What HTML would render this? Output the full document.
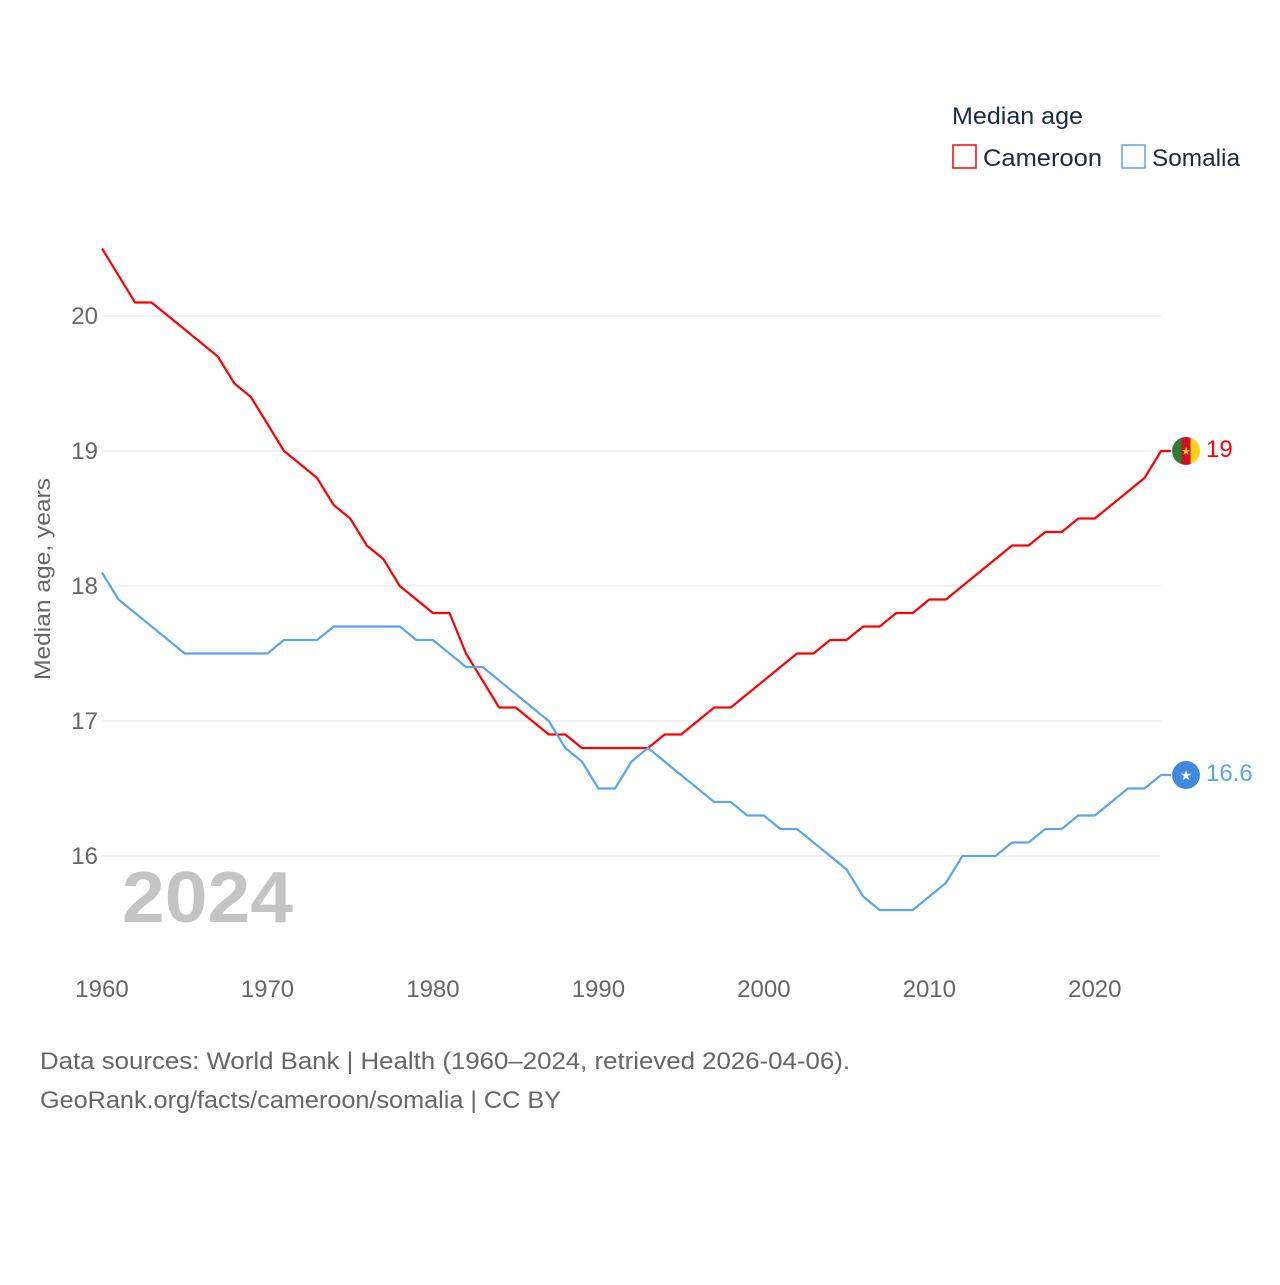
<!DOCTYPE html>
<html><head><meta charset="utf-8">
<style>
body{margin:0;background:#fff;font-family:"Liberation Sans",sans-serif;}
svg text{font-family:"Liberation Sans",sans-serif;}
</style></head>
<body>
<svg id="chart" width="1280" height="1280" viewBox="0 0 1280 1280" xmlns="http://www.w3.org/2000/svg">
<g id="grid"></g>
<g id="yticks"></g>
<g id="xticks"></g>
<text transform="translate(50,579) rotate(-90)" text-anchor="middle" font-size="22" fill="#666" textLength="202" lengthAdjust="spacingAndGlyphs">Median age, years</text>
<text x="122" y="922" font-size="72" font-weight="bold" fill="#c4c4c4" textLength="171" lengthAdjust="spacingAndGlyphs">2024</text>
<g id="lines"></g>
<g>
<text x="952" y="124" font-size="24" fill="#1b2a44" textLength="131" lengthAdjust="spacingAndGlyphs">Median age</text>
<rect x="953" y="145" width="23" height="23" fill="none" stroke="#ff0000" stroke-width="1.5"/>
<text x="983" y="166" font-size="24" fill="#1b2a44" textLength="119" lengthAdjust="spacingAndGlyphs">Cameroon</text>
<rect x="1122" y="145" width="23" height="23" fill="none" stroke="#5aa5ee" stroke-width="1.5"/>
<text x="1152" y="166" font-size="24" fill="#1b2a44" textLength="88" lengthAdjust="spacingAndGlyphs">Somalia</text>
</g>
<text x="40" y="1069" font-size="24" fill="#666" textLength="810" lengthAdjust="spacingAndGlyphs">Data sources: World Bank | Health (1960–2024, retrieved 2026-04-06).</text>
<text x="40" y="1108" font-size="24" fill="#666" textLength="521" lengthAdjust="spacingAndGlyphs">GeoRank.org/facts/cameroon/somalia | CC BY</text>
</svg>
<script>
const years = [];
for (let y = 1960; y <= 2024; y++) years.push(y);
const cameroon = [20.5,20.3,20.1,20.1,20.0,19.9,19.8,19.7,19.5,19.4,19.2,19.0,18.9,18.8,18.6,18.5,18.3,18.2,18.0,17.9,17.8,17.8,17.5,17.3,17.1,17.1,17.0,16.9,16.9,16.8,16.8,16.8,16.8,16.8,16.9,16.9,17.0,17.1,17.1,17.2,17.3,17.4,17.5,17.5,17.6,17.6,17.7,17.7,17.8,17.8,17.9,17.9,18.0,18.1,18.2,18.3,18.3,18.4,18.4,18.5,18.5,18.6,18.7,18.8,19.0];
const somalia = [18.1,17.9,17.8,17.7,17.6,17.5,17.5,17.5,17.5,17.5,17.5,17.6,17.6,17.6,17.7,17.7,17.7,17.7,17.7,17.6,17.6,17.5,17.4,17.4,17.3,17.2,17.1,17.0,16.8,16.7,16.5,16.5,16.7,16.8,16.7,16.6,16.5,16.4,16.4,16.3,16.3,16.2,16.2,16.1,16.0,15.9,15.7,15.6,15.6,15.6,15.7,15.8,16.0,16.0,16.0,16.1,16.1,16.2,16.2,16.3,16.3,16.4,16.5,16.5,16.6];
const yTickValues = [16,17,18,19,20];
const xTickValues = [1960,1970,1980,1990,2000,2010,2020];

const NS = "http://www.w3.org/2000/svg";
const xScale = y => 102 + (y - 1960) * (1059 / 64);
const yScale = v => 316 + (20 - v) * 135;
function mk(tag, attrs, parent){const e=document.createElementNS(NS,tag);for(const k in attrs)e.setAttribute(k,attrs[k]);parent.appendChild(e);return e;}

const grid=document.getElementById('grid'), yt=document.getElementById('yticks'), xt=document.getElementById('xticks'), lines=document.getElementById('lines');
yTickValues.forEach(v=>{
  const l=mk('line',{x1:102,x2:1161,y1:yScale(v),y2:yScale(v),stroke:'#e6e6e6','stroke-width':1},grid);
  
  
  const t=mk('text',{x:98,y:yScale(v)+8,'text-anchor':'end','font-size':24,fill:'#666'},yt);
  t.textContent=v;
  
  
});
xTickValues.forEach(v=>{
  const t=mk('text',{x:xScale(v),y:997,'text-anchor':'middle','font-size':24,fill:'#666'},xt);
  t.textContent=v;
  
  
});
function drawLine(vals,color,name){
  const d=vals.map((v,i)=>(i?'L':'M')+xScale(years[i]).toFixed(1)+','+yScale(v).toFixed(1)).join(' ');
  const lastX=xScale(years[years.length-1]), lastY=yScale(vals[vals.length-1]);
  const p=mk('path',{d:d+' L'+(lastX+10)+','+lastY,fill:'none',stroke:color,'stroke-width':2.2,'stroke-linejoin':'round'},lines);
  
  
  return [lastX+25,lastY];
}
const [cx,cy]=drawLine(cameroon,'#ff0000','cameroon');
const [sx,sy]=drawLine(somalia,'#5aa5ee','somalia');

const cf=mk('g',{},lines);


mk('defs',{},cf).innerHTML='<clipPath id="cc"><circle cx="'+cx+'" cy="'+cy+'" r="14"/></clipPath>';
const cg=mk('g',{'clip-path':'url(#cc)'},cf);
mk('rect',{x:cx-14,y:cy-14,width:10,height:28,fill:'#2f7d32'},cg);
mk('rect',{x:cx-4.7,y:cy-14,width:9.4,height:28,fill:'#ce1126'},cg);
mk('rect',{x:cx+4.7,y:cy-14,width:10,height:28,fill:'#fcd116'},cg);
const cs=mk('text',{x:cx,y:cy+4,'text-anchor':'middle','font-size':11,fill:'#fcd116'},cf);cs.textContent='★';
const cl=mk('text',{x:cx+20,y:cy+6,'font-size':24,fill:'#ff0000'},lines);
cl.textContent=String(cameroon[cameroon.length-1]);



const sf=mk('g',{},lines);


mk('circle',{cx:sx,cy:sy,r:14,fill:'#4189dd'},sf);
const ss=mk('text',{x:sx,y:sy+5,'text-anchor':'middle','font-size':14,fill:'#fff'},sf);ss.textContent='★';
const sl=mk('text',{x:sx+20,y:sy+6,'font-size':24,fill:'#5aa5ee'},lines);
sl.textContent=String(somalia[somalia.length-1]);


</script>
</body></html>
